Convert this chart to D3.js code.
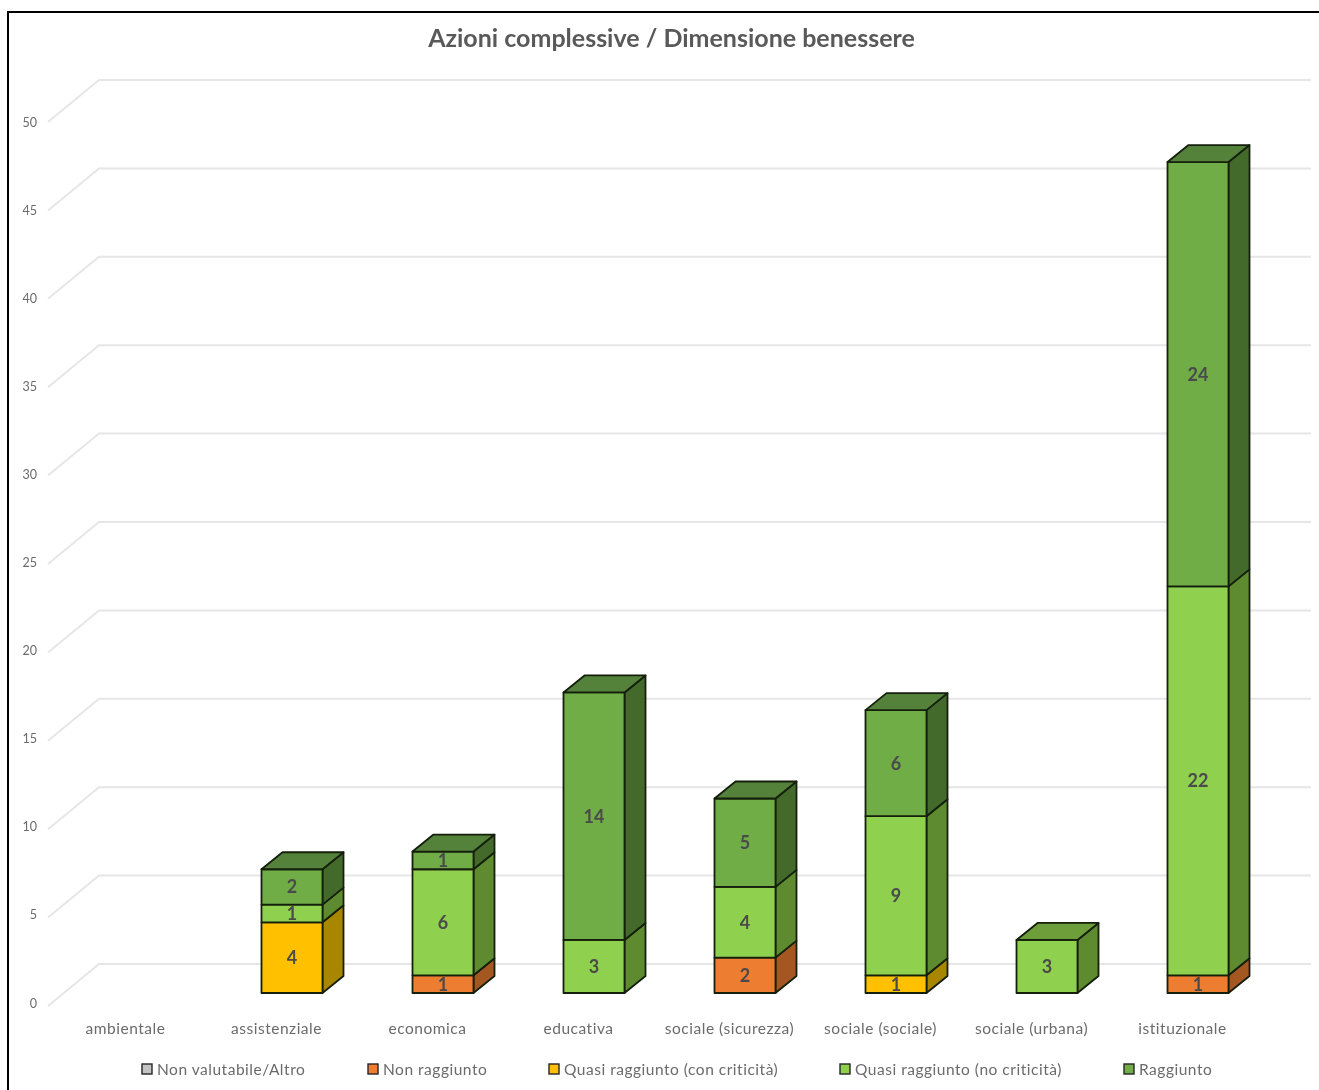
<!DOCTYPE html>
<html><head><meta charset="utf-8">
<script src="https://cdn.jsdelivr.net/npm/d3@7"></script>
<style>html,body{margin:0;padding:0;background:#fff}svg{display:block}text{font-family:Lato,"Open Sans",sans-serif}</style>
</head><body><svg id="c" width="1319" height="1090"></svg>
<script>
const titleText = "Azioni complessive / Dimensione benessere";
const categories = ["ambientale","assistenziale","economica","educativa","sociale (sicurezza)","sociale (sociale)","sociale (urbana)","istituzionale"];
const seriesNames = ["Non valutabile/Altro","Non raggiunto","Quasi raggiunto (con criticità)","Quasi raggiunto (no criticità)","Raggiunto"];
const nonValutabile = [0,0,0,0,0,0,0,0];
const nonRaggiunto  = [0,0,1,0,2,0,0,1];
const quasiCon      = [0,4,0,0,0,1,0,0];
const quasiNo       = [0,1,6,3,4,9,3,22];
const raggiunto     = [0,2,1,14,5,6,0,24];
const yTicks = [0,5,10,15,20,25,30,35,40,45,50];
const front = ["#a5a5a5","#ed7d31","#ffc000","#8fd14f","#70ad47"];
const side  = ["#737373","#a55722","#a88600","#5e8a30","#436a2b"];
const topC  = ["#858585","#bd6428","#c49a00","#6d9e3a","#54823a"];
const legendX = [142,368,549,840,1124];

const svg = d3.select("#c");
const seriesValues = [nonValutabile,nonRaggiunto,quasiCon,quasiNo,raggiunto];
const rows = categories.map((c,i)=>{const r={cat:c};seriesNames.forEach((s,j)=>r[s]=seriesValues[j][i]);return r;});
const stacked = d3.stack().keys(seriesNames)(rows);

const x = d3.scaleBand().domain(categories).range([65.5,1273.5]).paddingInner(0.596).paddingOuter(0.298);
const y = d3.scaleLinear().domain([0,50]).range([993,109]);
const yLabel = d3.scaleLinear().domain([0,50]).range([1003,122]);
const dx = 21, dy = -17;               // bar depth
const wallDy = -29;                    // bars' front plane to back wall
const ink = "#141f0c";

const root = svg.append("g").style("filter","blur(0.5px)");

// frame
root.append("path").attr("d","M8,1090V12H1319").attr("fill","none").attr("stroke","#000").attr("stroke-width",2);

// title
root.append("text").attr("x",671.5).attr("y",47).attr("text-anchor","middle")
  .attr("font-size",25).attr("font-weight",700).attr("fill","#595959").text(titleText);

// grid
const grid = root.append("g").attr("fill","none").attr("stroke","#e6e6e6").attr("stroke-width",2);
yTicks.forEach(v=>{
  const yb = y(v)+wallDy;
  grid.append("path").attr("d",`M48,${yb+42}L99,${yb}H1311`);
});

// y axis
const ax = root.append("g").attr("transform","translate(37,0)")
  .call(d3.axisLeft(yLabel).tickValues(yTicks).tickSize(0).tickPadding(0));
ax.select(".domain").remove();
ax.selectAll("text").attr("font-size",12.5).attr("fill","#6b6b6b").style("font-family","Lato,sans-serif");

// x axis
const bx = root.append("g").attr("transform","translate(-15.5,1021)")
  .call(d3.axisBottom(x).tickSize(0).tickPadding(0));
bx.select(".domain").remove();
bx.selectAll("text").attr("font-size",15.5).attr("letter-spacing",0.52).attr("fill","#6b6b6b").attr("dy","0.85em").style("font-family","Lato,sans-serif");

// bars
const w = x.bandwidth();
const bars = root.append("g").attr("stroke",ink).attr("stroke-width",1.8).attr("stroke-linejoin","round");
categories.forEach((c,i)=>{
  const x0 = x(c);
  const segs = stacked.map((s,j)=>({j,a:s[i][0],b:s[i][1]})).filter(d=>d.b>d.a);
  segs.forEach((d,k)=>{
    const y0=y(d.a), y1=y(d.b);
    bars.append("path").attr("fill",side[d.j])
      .attr("d",`M${x0+w},${y0}L${x0+w+dx},${y0+dy}V${y1+dy}L${x0+w},${y1}Z`);
    bars.append("rect").attr("x",x0).attr("y",y1).attr("width",w).attr("height",y0-y1).attr("fill",front[d.j]);
    if(k===segs.length-1){
      bars.append("path").attr("fill",topC[d.j])
        .attr("d",`M${x0},${y1}L${x0+dx},${y1+dy}H${x0+w+dx}L${x0+w},${y1}Z`);
    }
  });
});

// value labels
const lab = root.append("g").attr("text-anchor","middle").attr("font-size",18).attr("font-weight",700).attr("fill","#4a4a4a");
categories.forEach((c,i)=>{
  stacked.forEach(s=>{
    const a=s[i][0],b=s[i][1];
    if(b>a) lab.append("text").attr("x",x(c)+w/2).attr("y",y((a+b)/2)+6.5).text(b-a);
  });
});

// legend
const lg = root.append("g");
seriesNames.forEach((s,j)=>{
  lg.append("rect").attr("x",legendX[j]).attr("y",1064).attr("width",10).attr("height",10)
    .attr("fill",j===0?"#c4c4c4":front[j]).attr("stroke","#262626").attr("stroke-width",1.4);
  lg.append("text").attr("x",legendX[j]+15).attr("y",1075).attr("font-size",15.5).attr("letter-spacing",0.52).attr("fill","#6b6b6b").text(s);
});
</script></body></html>
